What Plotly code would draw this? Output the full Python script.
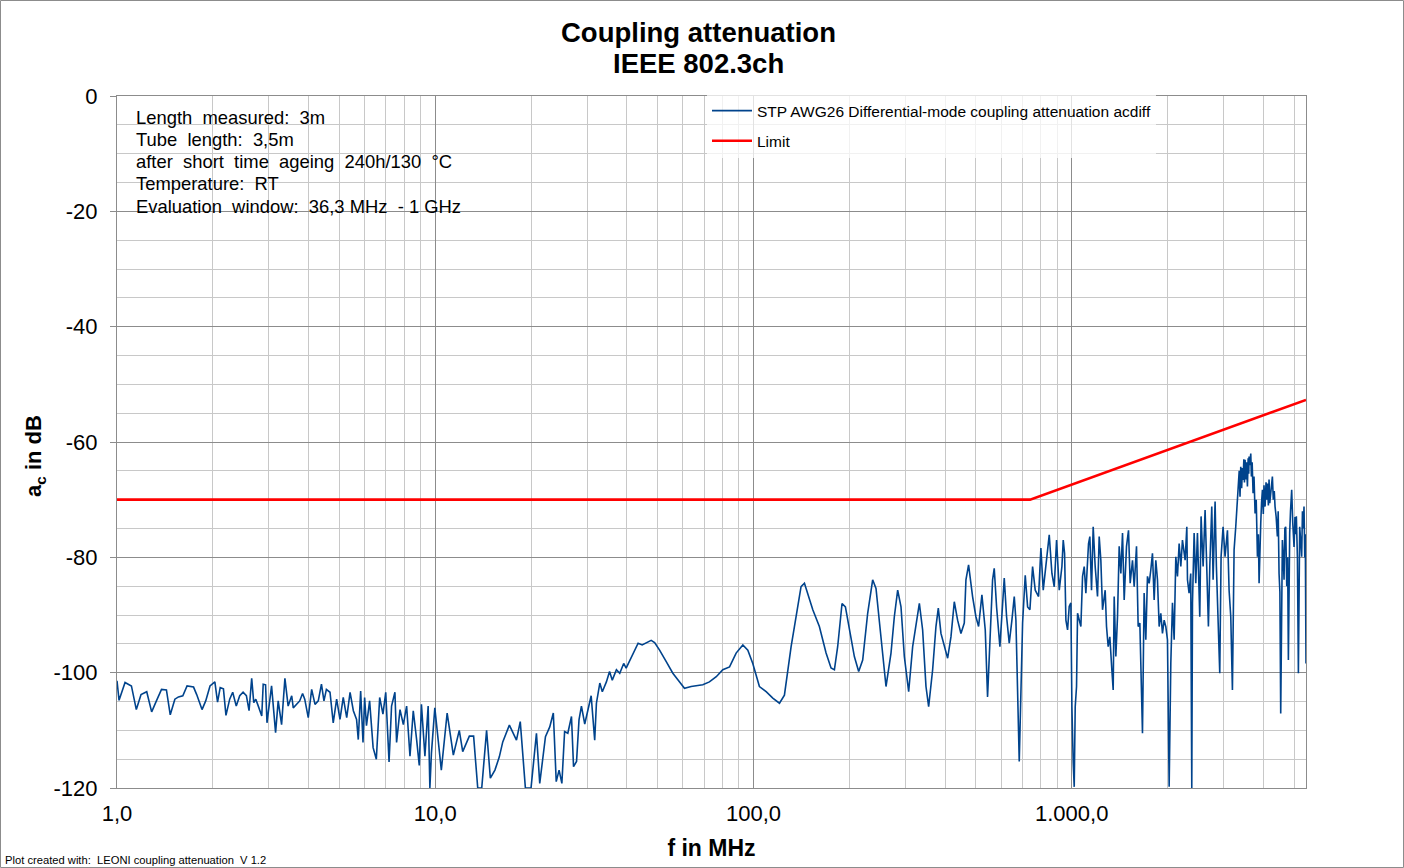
import plotly.graph_objects as go
import math

# ---- measured series: frequency (MHz) and coupling attenuation (dB), by segment ----
f_seg1 = [1.0, 1.015, 1.06, 1.11, 1.15, 1.19, 1.24, 1.285, 1.33, 1.38, 1.43, 1.47, 1.52, 1.56, 1.61, 1.66, 1.74, 1.78,
          1.85, 1.90, 1.96, 2.03, 2.07, 2.11, 2.16, 2.20, 2.26, 2.31, 2.37, 2.43, 2.49, 2.55, 2.60, 2.65, 2.69, 2.73,
          2.78, 2.85, 2.88, 2.93, 2.96, 3.06, 3.15, 3.21, 3.29, 3.37, 3.45, 3.54, 3.58, 3.67, 3.75, 3.83, 3.89, 3.99,
          4.09, 4.19, 4.29, 4.39, 4.47, 4.55, 4.67, 4.78, 4.90, 5.02, 5.14, 5.27, 5.40, 5.53, 5.66, 5.73, 5.83, 5.93,
          6.00, 6.08, 6.22, 6.38, 6.53, 6.69, 6.85, 6.99, 7.16, 7.29, 7.47, 7.56, 7.75, 7.94, 8.13, 8.33, 8.53, 8.74,
          8.91, 9.05, 9.28, 9.50, 9.62, 9.73, 9.97]
a_seg1 = [-101.4, -104.8, -101.7, -102.3, -106.4, -103.8, -103.3, -106.8, -104.9, -102.9, -103.0, -107.3, -104.6,
          -104.2, -104.0, -102.3, -102.5, -103.8, -106.4, -104.9, -102.3, -101.6, -105.1, -102.6, -102.8, -107.4,
          -104.6, -103.4, -105.8, -104.0, -103.4, -104.0, -106.6, -101.0, -105.2, -104.6, -105.8, -107.5, -102.0,
          -102.1, -108.7, -102.3, -110.4, -104.9, -109.0, -101.0, -105.8, -104.0, -106.1, -105.5, -104.9, -103.6,
          -104.6, -107.8, -102.9, -105.5, -104.9, -102.0, -104.9, -102.9, -103.4, -108.7, -104.6, -108.1, -104.3,
          -107.8, -103.4, -106.6, -108.1, -111.6, -103.2, -112.1, -104.3, -109.2, -104.9, -113.0, -115.0, -104.3,
          -107.2, -103.4, -115.5, -105.8, -103.4, -112.1, -106.4, -109.0, -105.8, -114.5, -106.6, -111.6, -116.1,
          -105.5, -114.5, -105.8, -120.0, -113.9, -106.1]

f_seg2 = [10.45, 10.9, 11.4, 11.9, 12.2, 12.8, 13.2, 13.6, 14.0, 14.5, 14.9, 15.4, 15.9, 16.3, 17.1, 18.0, 18.5, 19.2,
          20.0, 20.8, 21.3, 22.2, 22.9, 23.5, 24.0, 24.5, 25.0, 25.5, 26.1, 26.8, 27.2, 27.8, 28.3, 28.8, 29.5, 30.2,
          30.9, 31.7, 32.1, 32.9, 33.5, 34.5, 35.3, 36.0, 37.1, 38.0, 39.1, 39.8, 41.0, 42.3, 43.4, 44.7, 46.0, 47.7,
          48.9, 50.7, 53.2, 55.8, 58.6, 60.7, 63.7, 66.9, 69.3, 72.7, 76.4, 80.1, 84.1, 88.2, 92.6, 96.0, 99.5, 104.4,
          109.6, 115.0, 120.7, 125.1, 128.2, 131.3, 134.5]
a_seg2 = [-116.9, -107.0, -114.3, -110.0, -113.7, -111.0, -111.0, -120.0, -120.0, -110.0, -118.3, -116.9, -114.6,
          -112.0, -109.1, -111.7, -108.5, -120.0, -120.0, -110.5, -119.2, -111.1, -109.4, -107.0, -118.9, -116.9,
          -119.2, -110.2, -110.5, -107.6, -116.3, -115.4, -108.2, -105.8, -108.9, -106.2, -104.0, -111.7, -105.3,
          -101.8, -103.3, -101.6, -99.8, -101.3, -99.5, -100.1, -98.4, -99.2, -97.8, -96.3, -94.9, -95.2, -94.9,
          -94.4, -94.8, -96.1, -98.1, -100.1, -101.6, -102.7, -102.4, -102.3, -102.1, -101.6, -100.7, -99.5, -99.0,
          -96.6, -95.2, -96.1, -98.4, -102.4, -103.3, -104.4, -105.3, -103.9, -99.5, -95.5, -92.0]

f_seg3 = [141.1, 144.6, 148.1, 153.6, 161.1, 169.1, 175.3, 179.6, 183.9, 189.8, 194.5, 200.1, 207.5, 214.1, 220.4,
          228.5, 236.9, 242.7, 251.6, 260.9, 270.5, 277.1, 283.9, 290.8, 297.9, 307.4, 316.4, 324.1, 332.1, 340.1,
          348.4, 355.2, 365.6, 374.5, 380.9, 388.3, 397.8, 407.5, 417.4, 427.6, 438.0, 448.7, 459.7, 465.2, 474.2,
          488.1, 500.0, 509.8, 522.2, 535.0, 544.0, 550.8, 564.1, 570.9, 580.7, 594.8, 613.8, 624.3, 636.4, 648.8,
          659.9, 667.9, 676.0, 684.2, 700.9, 714.5]
a_seg3 = [-85.1, -84.5, -86.2, -89.1, -92.0, -96.6, -99.2, -99.5, -95.5, -88.0, -88.6, -92.6, -97.2, -99.8, -97.8,
          -89.7, -83.9, -85.4, -94.3, -102.4, -96.6, -90.3, -85.7, -88.6, -97.2, -103.3, -95.5, -91.4, -88.0, -92.6,
          -102.4, -105.9, -99.5, -92.0, -88.8, -93.2, -95.5, -97.5, -93.8, -87.7, -90.9, -93.2, -91.4, -83.9, -81.3,
          -86.8, -90.3, -92.0, -86.5, -92.6, -104.2, -96.1, -83.9, -81.9, -88.6, -95.5, -83.6, -90.3, -94.9, -90.9,
          -86.8, -90.9, -103.0, -115.4, -91.4, -83.1]

f_seg4 = [726.8, 739.1, 753.5, 768.1, 786.9, 800.2, 813.8, 829.7, 850.0, 866.6, 881.3, 896.3]
a_seg4 = [-88.6, -89.1, -81.6, -85.7, -86.8, -78.4, -85.7, -81.6, -76.1, -82.8, -85.1, -77.0]

f_seg5 = [913.8, 931.6, 940.6, 949.7, 958.9, 970.5, 982.2, 994.0, 1001.4, 1011.1, 1018.4, 1025.7, 1035.6, 1043.3,
          1055.8, 1068.6, 1081.6, 1094.7, 1107.9, 1129.5, 1140.4, 1154.2, 1168.2, 1185.1, 1205.4, 1220.0, 1234.8,
          1249.8, 1274.1, 1286.5, 1302.0, 1317.8, 1337.1, 1350.0, 1359.9, 1376.3, 1393.0, 1410.0, 1427.0, 1444.4,
          1461.9, 1486.7, 1508.4, 1526.6, 1552.5, 1571.5, 1598.2, 1617.5, 1637.2, 1653.1, 1668.8, 1689.0, 1709.6,
          1730.2, 1751.4, 1772.5, 1793.8, 1815.9, 1837.8, 1860.0, 1882.8, 1905.5, 1928.5, 1952.2, 1975.7, 1999.5,
          2024.0, 2048.5, 2073.2, 2098.6, 2123.9, 2149.5, 2175.9, 2202.1, 2228.6, 2272.0, 2300.0]
a_seg5 = [-85.7, -81.6, -77.0, -79.3, -90.9, -92.6, -88.5, -87.9, -105.9, -115.7, -119.8, -105.9, -102.4, -89.7,
          -90.9, -92.0, -83.3, -81.6, -86.2, -77.6, -76.4, -85.7, -74.7, -81.6, -86.8, -76.4, -80.5, -89.1, -85.7,
          -92.0, -95.5, -93.8, -99.5, -103.0, -86.8, -97.2, -90.3, -78.1, -82.8, -75.8, -87.4, -78.1, -75.3, -84.5,
          -80.5, -85.1, -78.1, -92.0, -91.4, -100.1, -110.5, -86.2, -94.3, -83.3, -84.5, -82.2, -79.3, -87.4, -80.5,
          -83.9, -92.0, -89.7, -93.2, -90.9, -92.0, -94.3, -119.8, -98.4, -87.9, -94.3, -79.9, -83.3, -77.6, -81.6,
          -77.0, -80.5, -74.7]

f_seg6 = [2311, 2338, 2366, 2384, 2396, 2425, 2454, 2484, 2526, 2550, 2588, 2625, 2651, 2689, 2716, 2755, 2782, 2822,
          2849, 2891, 2919, 2947, 2990, 3033, 3086, 3123, 3161, 3199, 3238, 3277, 3341, 3360, 3380, 3398, 3420, 3440,
          3456, 3475, 3490, 3506, 3525, 3545, 3566, 3585, 3600, 3609, 3630, 3653, 3670, 3690, 3715, 3740, 3769, 3800,
          3834, 3860, 3880, 3900, 3927, 3950, 3975, 4000, 4020, 4052, 4080, 4100, 4121, 4150, 4170, 4191, 4230, 4272,
          4300, 4330, 4355, 4390, 4429, 4455, 4483, 4510, 4537, 4560, 4592, 4620, 4648, 4675, 4704, 4740, 4770, 4796,
          4820, 4842, 4870, 4912, 4950, 4997, 5030, 5060, 5081, 5120, 5156, 5180, 5205, 5240, 5280, 5310, 5340, 5370,
          5400, 5420, 5448]
a_seg6 = [-83.9, -86.2, -82.8, -120.0, -88.0, -75.8, -84.5, -75.8, -90.3, -72.9, -81.6, -71.8, -79.9, -92.0, -81.6,
          -71.2, -83.9, -70.3, -81.6, -92.6, -100.1, -79.9, -74.7, -79.9, -75.3, -85.7, -90.3, -103.0, -78.7, -74.7,
          -68.3, -65.0, -69.5, -64.3, -68.0, -64.5, -66.6, -63.0, -67.0, -63.1, -66.5, -63.5, -67.7, -62.8, -65.5,
          -62.5, -64.0, -62.0, -66.0, -63.5, -68.9, -66.0, -72.4, -70.0, -79.9, -76.0, -84.5, -78.0, -74.1, -70.5,
          -68.3, -72.5, -67.5, -71.2, -67.0, -70.0, -67.2, -71.0, -66.5, -70.6, -67.5, -66.0, -70.0, -68.5, -71.2,
          -73.0, -76.4, -72.0, -82.8, -86.0, -107.1, -90.0, -77.0, -80.0, -83.9, -75.0, -74.7, -85.0, -80.0, -97.8,
          -82.0, -75.8, -72.0, -68.3, -74.0, -78.2, -73.0, -76.0, -72.9, -80.0, -100.1, -85.0, -74.7, -77.0, -79.9,
          -72.0, -75.0, -71.2, -80.0, -76.0, -98.4]

# ---- limit line ----
f_limit = [1.0, 740.0, 5448.0]
a_limit = [-70.0, -70.0, -52.7]

# ---- axis ticks ----
x_tickvals = [1, 10, 100, 1000]
x_ticktext = ["1,0", "10,0", "100,0", "1.000,0"]
y_tickvals = [0, -20, -40, -60, -80, -100, -120]
y_ticktext = ["0", "-20", "-40", "-60", "-80", "-100", "-120"]

title_lines = ["Coupling attenuation", "IEEE 802.3ch"]
info_lines = ["Length  measured:  3m", "Tube  length:  3,5m", "after  short  time  ageing  240h/130  \u00b0C",
              "Temperature:  RT", "Evaluation  window:  36,3 MHz  - 1 GHz"]

freq = f_seg1 + f_seg2 + f_seg3 + f_seg4 + f_seg5 + f_seg6
att = a_seg1 + a_seg2 + a_seg3 + a_seg4 + a_seg5 + a_seg6

FONT = "Liberation Sans, Arial, sans-serif"

fig = go.Figure()
fig.add_trace(go.Scatter(x=freq, y=att, mode="lines", name="STP AWG26 Differential-mode coupling attenuation acdiff",
                         line=dict(color="#00438C", width=1.6), legendgroup="a"))
fig.add_trace(go.Scatter(x=f_limit, y=a_limit, mode="lines", name="Limit",
                         line=dict(color="#FF0000", width=2.6), legendgroup="b"))

L, R, T, B = 117, 98, 96, 80
PW, PH = 1404 - L - R, 868 - T - B


def px(xp):
    return (xp - L) / PW


def py(yp):
    return 1 - (yp - T) / PH


annotations = []
for i, txt in enumerate(title_lines):
    annotations.append(dict(text="<b>" + txt + "</b>", xref="paper", yref="paper", x=px(698), y=py(32 + i * 31),
                            xanchor="center", yanchor="middle", showarrow=False,
                            font=dict(family=FONT, size=27.5, color="#000")))
for i, txt in enumerate(info_lines):
    annotations.append(dict(text=txt, xref="paper", yref="paper", x=px(134), y=py(117 + i * 22.3),
                            xanchor="left", yanchor="middle", showarrow=False,
                            font=dict(family=FONT, size=18.4, color="#000")))
annotations.append(dict(text="Plot created with:  LEONI coupling attenuation  V 1.2", xref="paper", yref="paper",
                        x=px(3), y=py(860), xanchor="left", yanchor="middle", showarrow=False,
                        font=dict(family=FONT, size=11.2, color="#000")))
annotations.append(dict(text="<b>a<sub>c</sub> in dB</b>", xref="paper", yref="paper", x=px(35),
                        y=py(456), textangle=-90, showarrow=False, xanchor="center", yanchor="middle",
                        font=dict(family=FONT, size=22, color="#000")))

fig.update_layout(
    width=1404, height=868,
    margin=dict(l=L, r=R, t=T, b=B),
    paper_bgcolor="white", plot_bgcolor="white",
    font=dict(family=FONT, color="#000"),
    showlegend=True,
    legend=dict(x=px(707), y=py(94), xanchor="left", yanchor="top", bgcolor="rgba(255,255,255,0.75)",
                borderwidth=0, font=dict(family=FONT, size=15.5, color="#000"), tracegroupgap=7,
                itemwidth=40),
    annotations=annotations,
    shapes=[dict(type="rect", xref="paper", yref="paper", x0=px(0.5), x1=px(1403.5),
                 y0=py(867.5), y1=py(0.5), line=dict(color="#8c8c8c", width=1),
                 fillcolor="rgba(0,0,0,0)", layer="below")],
)

fig.update_xaxes(type="log", range=[0, math.log10(5448)], tickmode="array", tickvals=x_tickvals,
                 ticktext=x_ticktext, tickfont=dict(size=22, family=FONT), ticks="", ticklabelstandoff=6,
                 showgrid=True, gridcolor="#8c8c8c", gridwidth=1,
                 minor=dict(dtick="D1", showgrid=True, gridcolor="#c8c8c8", gridwidth=1, ticks=""),
                 showline=True, linecolor="#8c8c8c", linewidth=1, mirror=True, zeroline=False,
                 title=dict(text="<b>f in MHz</b>", font=dict(size=23, family=FONT), standoff=14))
fig.update_yaxes(range=[-120, 0], tickmode="array", tickvals=y_tickvals, ticktext=y_ticktext,
                 tickfont=dict(size=22, family=FONT),
                 ticks="outside", ticklen=6, tickcolor="#8c8c8c", ticklabelstandoff=8,
                 showgrid=True, gridcolor="#8c8c8c", gridwidth=1,
                 minor=dict(dtick=5, showgrid=True, gridcolor="#c8c8c8", gridwidth=1, ticks=""),
                 showline=True, linecolor="#8c8c8c", linewidth=1, mirror=True, zeroline=False)

fig.write_html("out.html", config={"displayModeBar": False})

# remove the default page margin so the figure sits at the window's top-left corner
with open("out.html", "r", encoding="utf-8") as fh:
    html = fh.read()
html = html.replace("<head>", "<head><style>html,body{margin:0;padding:0;overflow:hidden;}</style>", 1)
with open("out.html", "w", encoding="utf-8") as fh:
    fh.write(html)
